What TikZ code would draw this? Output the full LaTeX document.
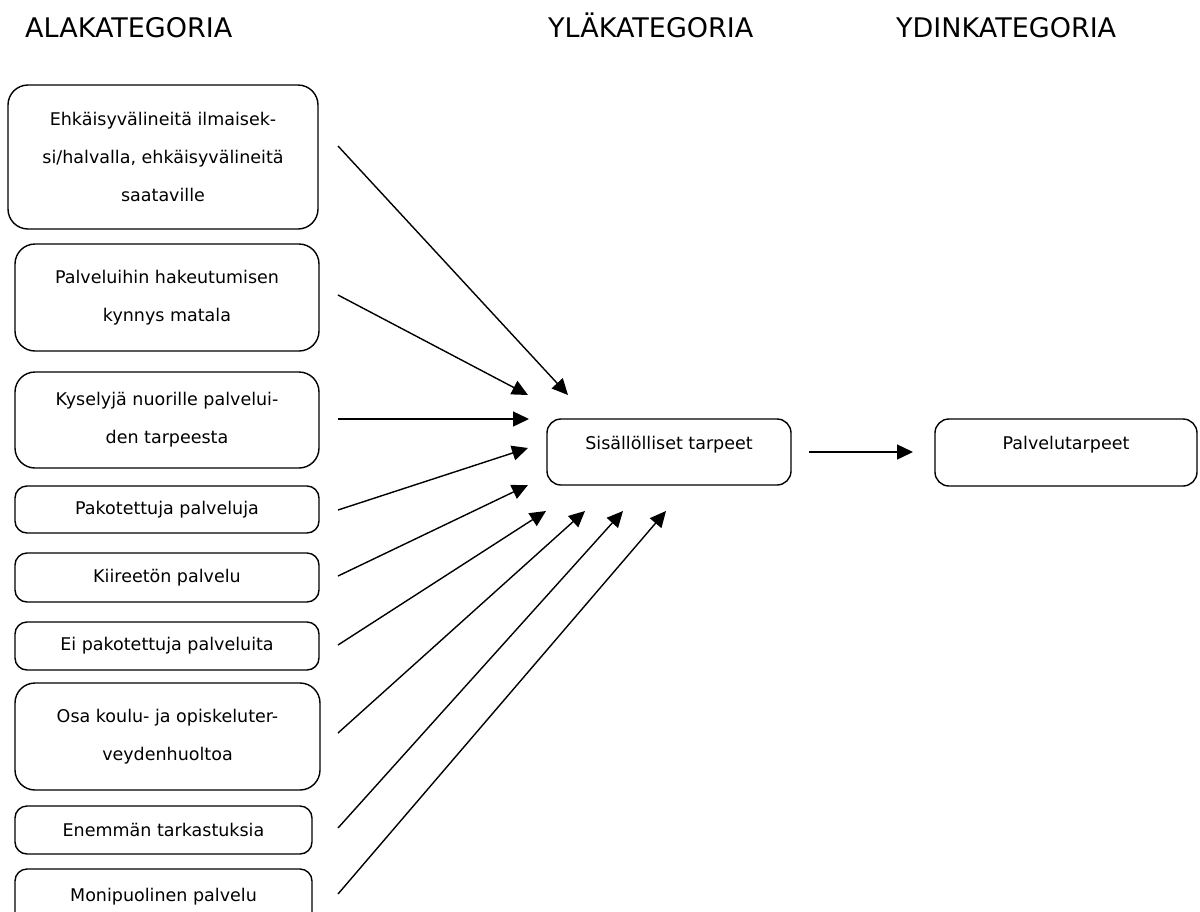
\documentclass[tikz,border=0pt]{standalone}
\usepackage{fontspec}
\setmainfont{DejaVu Sans}
\usetikzlibrary{arrows.meta}

\begin{document}
\begin{tikzpicture}[x=1pt,y=-1pt,
  box/.style={draw, line width=1.4pt, rounded corners=#1, inner sep=0pt,
    align=center, font=\fontsize{17.5}{38}\selectfont},
  box/.default=12pt,
  head/.style={anchor=base west, inner sep=0pt, font=\fontsize{27}{32}\selectfont},
  lbl/.style={inner sep=0pt, font=\fontsize{17.5}{38}\selectfont},
  conn/.style={-{Triangle[length=16pt,width=15pt]}, line width=1.4pt}
]
% page frame
\clip (0,0) rectangle (1200,911);
\fill[white] (0,0) rectangle (1200,911);

% column headings
\node[head] (h1) at (25,37) {ALAKATEGORIA};
\node[head] (h2) at (548,37) {YLÄKATEGORIA};
\node[head] (h3) at (896,37) {YDINKATEGORIA};

% sub-categories
\node[box=20pt, minimum width=310pt, minimum height=144pt] (b1) at (163,157)
  {Ehkäisyvälineitä ilmaisek-\\si/halvalla, ehkäisyvälineitä\\saataville};
\node[box=20pt, minimum width=304pt, minimum height=107pt] (b2) at (167,297.5)
  {Palveluihin hakeutumisen\\kynnys matala};
\node[box=20pt, minimum width=304pt, minimum height=96pt] (b3) at (167,420)
  {Kyselyjä nuorille palvelui-\\den tarpeesta};
\node[box, minimum width=304pt, minimum height=47pt] (b4) at (167,509.5)
  {Pakotettuja palveluja};
\node[box, minimum width=304pt, minimum height=49pt] (b5) at (167,577.5)
  {Kiireetön palvelu};
\node[box, minimum width=304pt, minimum height=48pt] (b6) at (167,646)
  {Ei pakotettuja palveluita};
\node[box=20pt, minimum width=305pt, minimum height=107pt] (b7) at (167.5,736.5)
  {Osa koulu- ja opiskeluter-\\veydenhuoltoa};
\node[box, minimum width=297pt, minimum height=48pt] (b8) at (163.5,830)
  {Enemmän tarkastuksia};
\node[box, minimum width=297pt, minimum height=56pt] (b9) at (163.5,897)
  {Monipuolinen palvelu};

% upper category
\node[box=14pt, minimum width=244pt, minimum height=66pt] (sis) at (669,452) {};
\node[lbl] (sistxt) at (669,445) {Sisällölliset tarpeet};

% core category
\node[box=14pt, minimum width=262pt, minimum height=67pt] (pal) at (1066,452.5) {};
\node[lbl] (paltxt) at (1066,445) {Palvelutarpeet};

% connector end points
\coordinate (s1) at (338,146);  \coordinate (t1) at (568,395);
\coordinate (s2) at (338,295);  \coordinate (t2) at (528,395);
\coordinate (s3) at (338,419);  \coordinate (t3) at (529,419);
\coordinate (s4) at (338,510);  \coordinate (t4) at (528,448);
\coordinate (s5) at (338,576);  \coordinate (t5) at (528,485);
\coordinate (s6) at (338,645);  \coordinate (t6) at (546,511);
\coordinate (s7) at (338,733);  \coordinate (t7) at (585,511);
\coordinate (s8) at (338,828);  \coordinate (t8) at (623,511);
\coordinate (s9) at (338,894);  \coordinate (t9) at (666,511);
\coordinate (m1) at (809,452);  \coordinate (m2) at (913,452);

% connectors
\foreach \i in {1,...,9} {
  \draw[conn] (s\i) -- (t\i);
}
\draw[conn] (m1) -- (m2);
\end{tikzpicture}
\end{document}
